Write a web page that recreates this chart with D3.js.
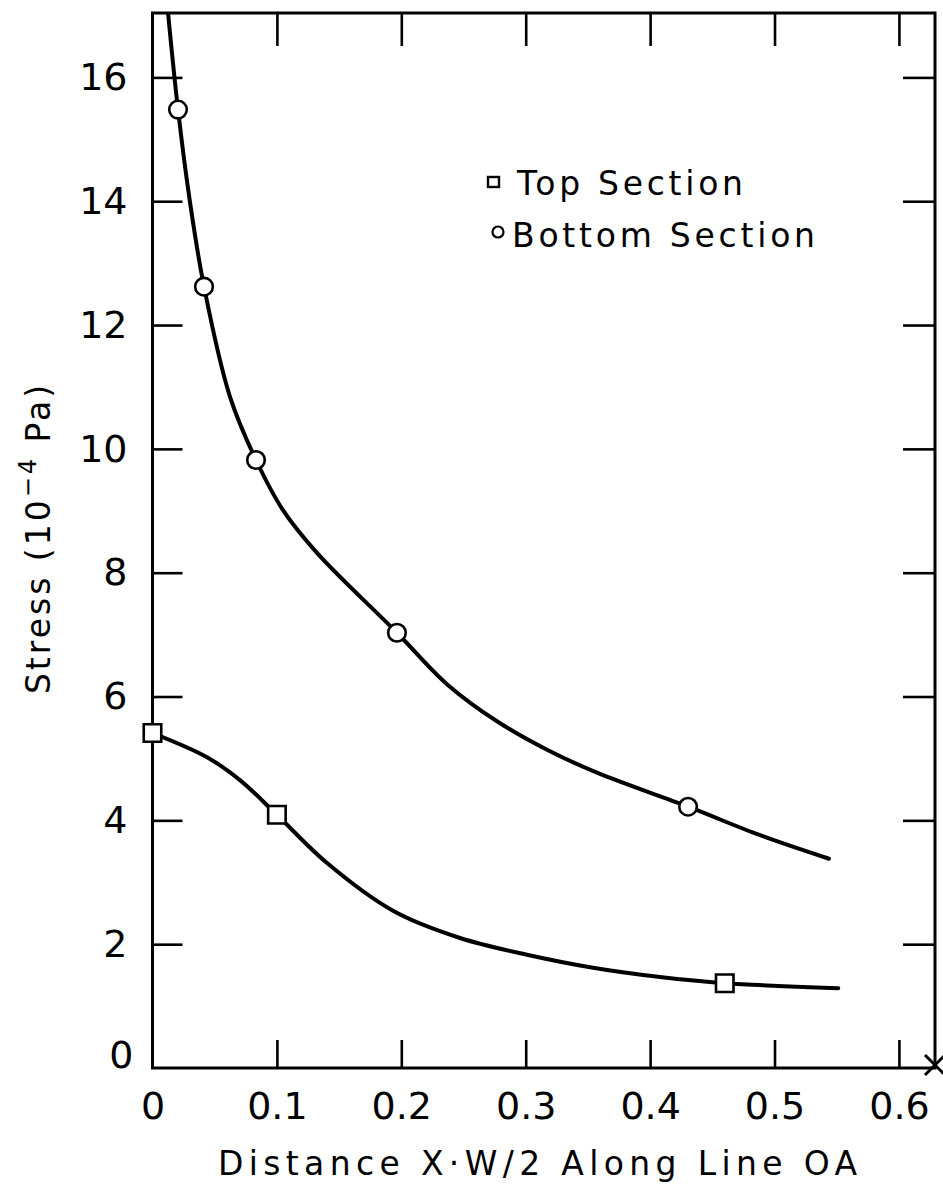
<!DOCTYPE html>
<html>
<head>
<meta charset="utf-8">
<script src="https://cdn.jsdelivr.net/npm/d3@7"></script>
<style>
  html, body { margin: 0; padding: 0; background: #fff; }
  svg { display: block; }
  text { font-family: "DejaVu Sans", "Liberation Sans", sans-serif; fill: #000; }
</style>
</head>
<body>
<svg id="chart" width="943" height="1196"></svg>
<script>
// Stress along line OA, top and bottom sections

// measured points (distance, stress in 10^-4 Pa)
const topSectionX = [0, 0.100, 0.460];
const topSectionY = [5.41, 4.09, 1.37];
const bottomSectionX = [0.0205, 0.0414, 0.0832, 0.1965, 0.4305];
const bottomSectionY = [15.48, 12.62, 9.82, 7.03, 4.22];

// smoothed fit curves drawn through the measurements
const topCurveX = [0, 0.0438, 0.0703, 0.100, 0.1403, 0.1933, 0.2472, 0.301, 0.3541, 0.4079, 0.4602, 0.5512];
const topCurveY = [5.41, 5.02, 4.65, 4.09, 3.31, 2.54, 2.10, 1.83, 1.62, 1.47, 1.37, 1.29];
const bottomCurveX = [0.0125, 0.0205, 0.0301, 0.0414, 0.0623, 0.0832, 0.1049, 0.1322, 0.1965, 0.2367, 0.2769, 0.3171, 0.3573, 0.4305, 0.4884, 0.5438];
const bottomCurveY = [17.04, 15.48, 13.99, 12.62, 10.84, 9.82, 9.01, 8.32, 7.03, 6.20, 5.60, 5.14, 4.77, 4.22, 3.76, 3.38];

// axes
const xDomain = [0, 0.629];
const yDomain = [0, 17.04];
const xTickValues = [0, 0.1, 0.2, 0.3, 0.4, 0.5, 0.6];
const xTickLabels = ["0", "0.1", "0.2", "0.3", "0.4", "0.5", "0.6"];
const yTickValues = [0, 2, 4, 6, 8, 10, 12, 14, 16];
const yTickLabels = ["0", "2", "4", "6", "8", "10", "12", "14", "16"];

const legendLabels = ["Top Section", "Bottom Section"];
const xTitle = "Distance X\u00B7W/2 Along Line OA";

const svg = d3.select("#chart");
const plotLeft = 152.5, plotRight = 935, plotTop = 13, plotBottom = 1068;

const x = d3.scaleLinear().domain(xDomain).range([plotLeft, plotRight]);
const y = d3.scaleLinear().domain(yDomain).range([plotBottom, plotTop]);

// clip region for the curves
svg.append("defs").append("clipPath").attr("id", "plot")
  .append("rect").attr("x", plotLeft).attr("y", plotTop)
  .attr("width", plotRight - plotLeft).attr("height", plotBottom - plotTop);

function styleAxis(g) {
  g.select(".domain").remove();
  g.selectAll(".tick line").attr("stroke", "#000").attr("stroke-width", 2.6);
  g.selectAll(".tick text").style("font-size", "38px").attr("fill", "#000");
}

// left axis with labels
const gl = svg.append("g").attr("transform", `translate(${plotLeft},0)`)
  .call(d3.axisLeft(y).tickValues(yTickValues)
    .tickFormat((d, i) => yTickLabels[i]).tickSize(-30).tickSizeOuter(0).tickPadding(25))
  .call(styleAxis);
gl.selectAll(".tick").filter(d => d === 0).select("line").remove();
gl.selectAll(".tick").filter(d => d === 0).select("text")
  .attr("x", -19).attr("y", -13);

// right axis ticks
svg.append("g").attr("transform", `translate(${plotRight},0)`)
  .call(d3.axisRight(y).tickValues(yTickValues.filter(v => v > 0))
    .tickFormat("").tickSize(-32).tickSizeOuter(0))
  .call(styleAxis);

// bottom axis with labels
const gb = svg.append("g").attr("transform", `translate(0,${plotBottom})`)
  .call(d3.axisBottom(x).tickValues(xTickValues)
    .tickFormat((d, i) => xTickLabels[i]).tickSize(-28).tickSizeOuter(0).tickPadding(24))
  .call(styleAxis);
gb.selectAll(".tick").filter(d => d === 0).select("line").remove();

// top axis ticks
svg.append("g").attr("transform", `translate(0,${plotTop})`)
  .call(d3.axisTop(x).tickValues(xTickValues.filter(v => v > 0))
    .tickFormat("").tickSize(-33).tickSizeOuter(0))
  .call(styleAxis);

// frame
svg.append("rect")
  .attr("x", plotLeft).attr("y", plotTop)
  .attr("width", plotRight - plotLeft).attr("height", plotBottom - plotTop)
  .attr("fill", "none").attr("stroke", "#000").attr("stroke-width", 3);

// point A marker at the far end of the line
svg.append("path")
  .attr("d", d3.symbol(d3.symbolX, 263)())
  .attr("transform", `translate(${x(xDomain[1])},${y(0) - 3})`)
  .attr("fill", "none").attr("stroke", "#000").attr("stroke-width", 3);

// fit curves
const line = d3.line()
  .x(d => x(d[0])).y(d => y(d[1]))
  .curve(d3.curveCatmullRom.alpha(0.5));

const curves = [
  d3.zip(topCurveX, topCurveY),
  d3.zip(bottomCurveX, bottomCurveY)
];
svg.append("g").attr("clip-path", "url(#plot)")
  .selectAll("path").data(curves).join("path")
  .attr("d", line)
  .attr("fill", "none").attr("stroke", "#000")
  .attr("stroke-width", 4).attr("stroke-linecap", "round").attr("stroke-linejoin", "round");

// markers
const squareSym = d3.symbol(d3.symbolSquare, 17.5 * 17.5);
svg.append("g").selectAll("path")
  .data(d3.zip(topSectionX, topSectionY)).join("path")
  .attr("d", squareSym())
  .attr("transform", d => `translate(${x(d[0])},${y(d[1])})`)
  .attr("fill", "#fff").attr("stroke", "#000").attr("stroke-width", 2.6);

svg.append("g").selectAll("circle")
  .data(d3.zip(bottomSectionX, bottomSectionY)).join("circle")
  .attr("cx", d => x(d[0])).attr("cy", d => y(d[1])).attr("r", 8.8)
  .attr("fill", "#fff").attr("stroke", "#000").attr("stroke-width", 2.6);

// legend
const lg = svg.append("g");
lg.append("rect").attr("x", 488).attr("y", 177).attr("width", 11).attr("height", 10)
  .attr("fill", "#fff").attr("stroke", "#000").attr("stroke-width", 2.4);
lg.append("text").attr("x", 517).attr("y", 195)
  .attr("textLength", 226).attr("lengthAdjust", "spacing")
  .style("font-size", "33px").text(legendLabels[0]);
lg.append("circle").attr("cx", 498).attr("cy", 232).attr("r", 5.5)
  .attr("fill", "#fff").attr("stroke", "#000").attr("stroke-width", 2.2);
lg.append("text").attr("x", 512).attr("y", 247)
  .attr("textLength", 303).attr("lengthAdjust", "spacing")
  .style("font-size", "33px").text(legendLabels[1]);

// axis titles
svg.append("text")
  .attr("x", 218).attr("y", 1175)
  .attr("textLength", 639).attr("lengthAdjust", "spacing")
  .style("font-size", "33px").text(xTitle);

const yt = svg.append("text")
  .attr("transform", "translate(50,538) rotate(-90)")
  .attr("text-anchor", "middle")
  .style("font-size", "33px").style("letter-spacing", "3px");
yt.append("tspan").text("Stress (10");
yt.append("tspan").attr("dy", -14).style("font-size", "24px").text("\u22124");
yt.append("tspan").attr("dy", 14).text(" Pa)");
</script>
</body>
</html>
